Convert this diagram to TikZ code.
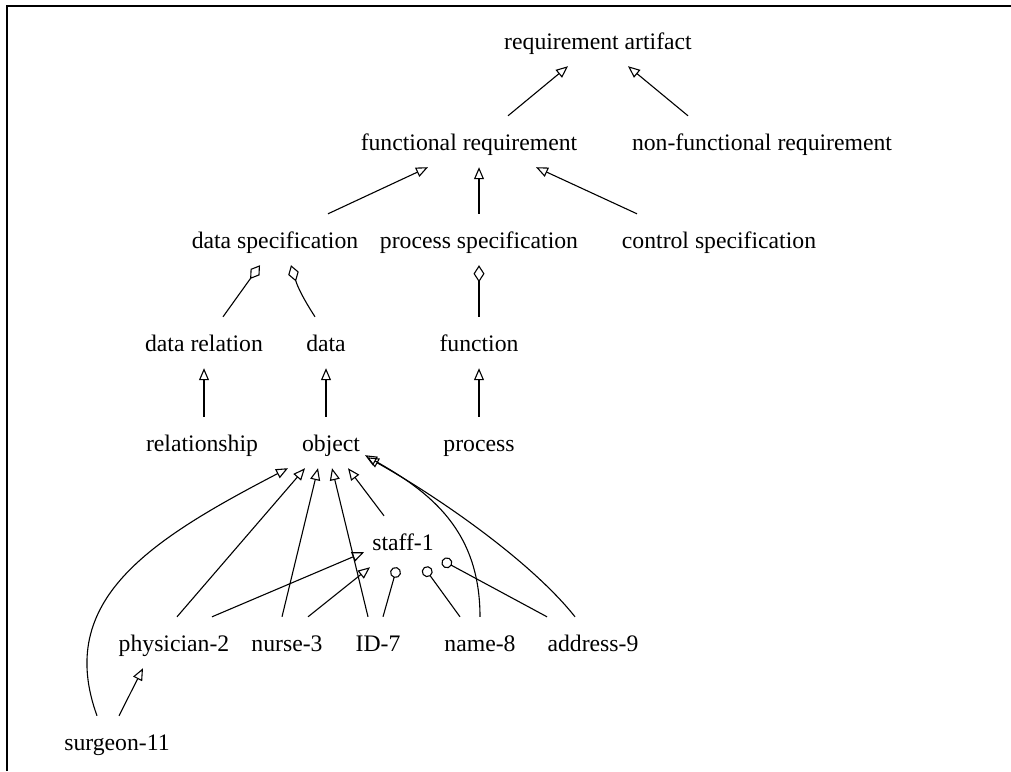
\documentclass[tikz,border=0pt]{standalone}
\usepackage{fontspec}
\setmainfont{Liberation Serif}
\usetikzlibrary{arrows.meta}

\begin{document}
\begin{tikzpicture}[
            x=1pt, y=-1pt,
            classnode/.style={inner sep=0pt, text height=34pt, text depth=17pt, anchor=base, font=\fontsize{23.7}{28}\selectfont},
            isa/.style={-{Triangle[open,length=12pt,width=10pt]}, line width=1.1pt},
            partof/.style={-{Diamond[open,length=17pt,width=11pt]}, line width=1.1pt},
            attrof/.style={-{Circle[open,length=11pt]}, line width=1.1pt},
        ]
        \useasboundingbox (0,0) rectangle (1011,771);
        \draw[line width=2pt] (7,771) -- (7,6) -- (1011,6);
        \node[classnode]  (reqart)    at (598,49)  {requirement artifact};
        \node[classnode]  (funreq)    at (469,150) {functional requirement};
        \node[classnode]  (nonfun)    at (762,150) {non-functional requirement};
        \node[classnode]  (dspec)     at (275,248) {data specification};
        \node[classnode]  (pspec)     at (479,248) {process specification};
        \node[classnode]  (cspec)     at (719,248) {control specification};
        \node[classnode]  (drel)      at (204,351) {data relation};
        \node[classnode]  (data)      at (326,351) {data};
        \node[classnode]  (func)      at (479,351) {function};
        \node[classnode]  (relship)   at (202,451) {relationship};
        \node[classnode]  (object)    at (331,451) {object};
        \node[classnode]  (process)   at (479,451) {process};
        \node[classnode]  (staff)     at (403,550) {staff-1};
        \node[classnode]  (physician) at (174,651) {physician-2};
        \node[classnode]  (nurse)     at (287,651) {nurse-3};
        \node[classnode]  (id)        at (378,651) {ID-7};
        \node[classnode]  (name)      at (480,651) {name-8};
        \node[classnode]  (address)   at (593,651) {address-9};
        \node[classnode]  (surgeon)   at (117,750) {surgeon-11};
        % generalisation and aggregation, top part
        \draw[isa] ([xshift=39pt]funreq.north) -- ([xshift=-30pt]reqart.south);
        \draw[isa] ([xshift=-74pt]nonfun.north) -- ([xshift=30pt]reqart.south);
        \draw[isa] ([xshift=53pt]dspec.north) -- ([xshift=-41pt]funreq.south);
        \draw[isa] (pspec.north) -- (pspec.north |- funreq.south);
        \draw[isa] ([xshift=-82pt]cspec.north) -- ([xshift=67pt]funreq.south);
        \draw[partof] ([xshift=19pt]drel.north) -- ([xshift=-15pt]dspec.south);
        \draw[partof] ([xshift=-11pt]data.north) to[bend left=8] ([xshift=16pt]dspec.south);
        \draw[partof] (func.north) -- (func.north |- pspec.south);
        \draw[isa] (drel.south |- relship.north) -- (drel.south);
        \draw[isa] (data.south |- object.north) -- (data.south);
        \draw[isa] (process.north) -- (process.north |- func.south);
        % instances below object
        \draw[isa] ([xshift=-20pt]surgeon.north) .. controls (55,600) and (150,540) .. ([xshift=-43pt]object.south);
        \draw[isa] ([xshift=3pt]physician.north) -- ([xshift=-26pt]object.south);
        \draw[isa] ([xshift=-5pt]nurse.north) -- ([xshift=-13pt]object.south);
        \draw[isa] ([xshift=-10pt]id.north) -- ([xshift=1pt]object.south);
        \draw[isa] ([xshift=-19pt]staff.north) -- ([xshift=17pt]object.south);
        \draw[isa] (name.north) .. controls (480,530) and (430,492) .. ([shift={(34pt,13pt)}]object.south);
        \draw[isa] ([xshift=-18pt]address.north) .. controls (530,560) and (435,495) .. ([shift={(36pt,11pt)}]object.south);
        \draw[isa] ([xshift=38pt]physician.north) -- ([shift={(-39pt,15pt)}]staff.south);
        \draw[isa] ([xshift=21pt]nurse.north) -- ([xshift=-33pt]staff.south);
        \draw[attrof] ([xshift=5pt]id.north) -- ([xshift=-6pt]staff.south);
        \draw[attrof] ([xshift=-20pt]name.north) -- ([xshift=21pt]staff.south);
        \draw[attrof] ([xshift=-46pt]address.north) -- ([shift={(39pt,7pt)}]staff.south);
        \draw[isa] ([xshift=2pt]surgeon.north) -- ([xshift=-31pt]physician.south);
    \end{tikzpicture}
\end{document}
